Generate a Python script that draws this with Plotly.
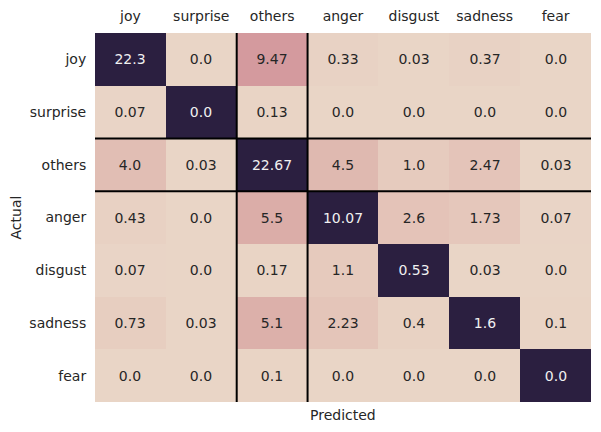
import plotly.graph_objects as go

# confusion matrix (mean counts), rows = actual, cols = predicted
labels = ["joy", "surprise", "others", "anger", "disgust", "sadness", "fear"]
joy      = [22.3, 0.0, 9.47, 0.33, 0.03, 0.37, 0.0]
surprise = [0.07, 0.0, 0.13, 0.0, 0.0, 0.0, 0.0]
others   = [4.0, 0.03, 22.67, 4.5, 1.0, 2.47, 0.03]
anger    = [0.43, 0.0, 5.5, 10.07, 2.6, 1.73, 0.07]
disgust  = [0.07, 0.0, 0.17, 1.1, 0.53, 0.03, 0.0]
sadness  = [0.73, 0.03, 5.1, 2.23, 0.4, 1.6, 0.1]
fear     = [0.0, 0.0, 0.1, 0.0, 0.0, 0.0, 0.0]
matrix = [joy, surprise, others, anger, disgust, sadness, fear]

n = len(labels)
off = [[None if i == j else matrix[i][j] for j in range(n)] for i in range(n)]
diag = [[matrix[i][j] if i == j else None for j in range(n)] for i in range(n)]
off_txt = [["" if v is None else str(v) for v in row] for row in off]
diag_txt = [["" if v is None else str(v) for v in row] for row in diag]
offmax = max(v for row in off for v in row if v is not None)

scale = [[0.0, "#e9d5c6"], [0.05, "#e8d1c3"], [0.1, "#e6cbbe"],
         [0.25, "#e4c4b9"], [0.45, "#e0bdb3"], [0.55, "#dcaea9"],
         [1.0, "#d49a9e"]]

fig = go.Figure()
fig.add_trace(go.Heatmap(z=off, x=labels, y=labels, text=off_txt,
                         texttemplate="%{text}", colorscale=scale,
                         zmin=0, zmax=offmax, showscale=False,
                         textfont=dict(color="#262626", size=14),
                         hoverongaps=False))
fig.add_trace(go.Heatmap(z=diag, x=labels, y=labels, text=diag_txt,
                         texttemplate="%{text}",
                         colorscale=[[0, "#2b1f40"], [1, "#2b1f40"]],
                         showscale=False,
                         textfont=dict(color="#f0f0f0", size=14),
                         hoverongaps=False))

# black lines around the "others" row and column
k = labels.index("others")
for p in (k - 0.5, k + 0.5):
    fig.add_shape(type="line", xref="x", yref="paper", x0=p, x1=p, y0=0, y1=1,
                  line=dict(color="black", width=2))
    fig.add_shape(type="line", xref="paper", yref="y", x0=0, x1=1, y0=p, y1=p,
                  line=dict(color="black", width=2))

fig.add_annotation(text="Predicted", xref="paper", yref="paper", x=0.5, y=0,
                   yanchor="middle", yshift=-13, showarrow=False,
                   font=dict(size=14, color="#262626"))
fig.add_annotation(text="Actual", xref="paper", yref="paper", x=0, y=0.5,
                   xanchor="center", xshift=-80, textangle=-90, showarrow=False,
                   font=dict(size=14, color="#262626"))

fig.update_xaxes(side="top", showgrid=False, zeroline=False, ticks="outside",
                 ticklen=5, tickcolor="rgba(0,0,0,0)", automargin=False,
                 tickfont=dict(size=14, color="#262626"))
fig.update_yaxes(autorange="reversed", showgrid=False, zeroline=False,
                 ticks="outside", ticklen=5, tickcolor="rgba(0,0,0,0)",
                 automargin=False, tickfont=dict(size=14, color="#262626"))
# page body adds an 8px offset, so the figure is drawn 8px smaller
fig.update_layout(width=593, height=424, plot_bgcolor="white",
                  paper_bgcolor="white",
                  font=dict(family="DejaVu Sans", color="#262626"),
                  margin=dict(l=87, r=10, t=25, b=30))
fig.write_html("out.html")
